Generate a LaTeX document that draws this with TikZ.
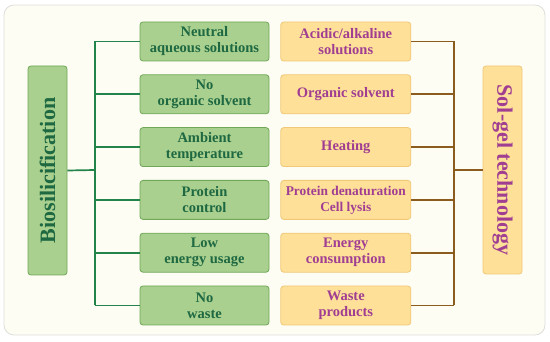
\documentclass[tikz,border=0pt]{standalone}
\usepackage{fontspec}
\setmainfont{Liberation Serif}
\usepackage{tikz}
\usetikzlibrary{positioning,calc}
\usepackage{xcolor}
\definecolor{paper}{RGB}{253,253,243}
\definecolor{frame}{RGB}{222,222,218}
\definecolor{leafgreen}{RGB}{169,208,142}
\definecolor{edgegreen}{RGB}{112,168,88}
\definecolor{inkgreen}{RGB}{30,104,66}
\definecolor{linegreen}{RGB}{34,132,74}
\definecolor{sand}{RGB}{255,224,153}
\definecolor{edgesand}{RGB}{240,200,120}
\definecolor{inkpurple}{RGB}{160,62,146}
\definecolor{linebrown}{RGB}{140,92,30}

\begin{document}
\begin{tikzpicture}[
    x=1pt, y=-1pt,
    node distance=13pt,
    box/.style={rectangle, draw, line width=0.8pt, rounded corners=3pt, minimum width=129pt, minimum height=39pt, align=center, inner sep=1pt, font=\fontsize{14.5}{16}\selectfont\bfseries},
    pro/.style={box, fill=leafgreen, draw=edgegreen, text=inkgreen},
    con/.style={box, fill=sand, draw=edgesand, text=inkpurple, minimum width=130pt},
    side/.style={rectangle, draw, line width=0.8pt, rounded corners=3pt, minimum width=209pt, minimum height=39pt, rotate=90, inner sep=0pt, font=\fontsize{22}{24}\selectfont\bfseries},
    gline/.style={draw=linegreen, line width=1.7pt},
    bline/.style={draw=linebrown, line width=1.7pt}
]
    \useasboundingbox (0,0) rectangle (550,342);
    \draw[frame, fill=paper, line width=0.8pt, rounded corners=10pt] (4,5) rectangle (545,335);

    % Biosilicification side
    \node[side, fill=leafgreen, draw=edgegreen, text=inkgreen] (bio) at (47.5,170.5) {Biosilicification};
    \node[pro] (g1) at (204.5,41.5) {Neutral\\aqueous solutions};
    \node[pro, below=of g1] (g2) {No\\organic solvent};
    \node[pro, below=of g2] (g3) {Ambient\\temperature};
    \node[pro, below=of g3] (g4) {Protein\\control};
    \node[pro, below=of g4] (g5) {Low\\energy usage};
    \node[pro, below=of g5] (g6) {No\\waste};

    % Sol-gel side
    \node[con, right=11pt of g1] (o1) {Acidic/alkaline\\solutions};
    \node[con, right=11pt of g2] (o2) {Organic solvent};
    \node[con, right=11pt of g3] (o3) {Heating};
    \node[con, right=11pt of g4, font=\fontsize{13.4}{16}\selectfont\bfseries] (o4) {Protein denaturation\\Cell lysis};
    \node[con, right=11pt of g5] (o5) {Energy\\consumption};
    \node[con, right=11pt of g6] (o6) {Waste\\products};
    \node[side, minimum width=208pt, fill=sand, draw=edgesand, text=inkpurple, rotate=180] (sol) at (502.5,170) {Sol-gel technology};

    % Edges
    \coordinate (lfork) at (95,170);
    \coordinate (rfork) at (454,170);
    \draw[gline] (bio.south) -- (lfork);
    \draw[gline] (lfork |- g1.west) -- (lfork |- g6.west);
    \draw[gline] (lfork |- g1.west) -- (g1.west);
    \draw[gline] (lfork |- g2.west) -- (g2.west);
    \draw[gline] (lfork |- g3.west) -- (g3.west);
    \draw[gline] (lfork |- g4.west) -- (g4.west);
    \draw[gline] (lfork |- g5.west) -- (g5.west);
    \draw[gline] (lfork |- g6.west) -- (g6.west);
    \draw[bline] (sol.south) -- (rfork);
    \draw[bline] (rfork |- o1.east) -- (rfork |- o6.east);
    \draw[bline] (o1.east) -- (rfork |- o1.east);
    \draw[bline] (o2.east) -- (rfork |- o2.east);
    \draw[bline] (o3.east) -- (rfork |- o3.east);
    \draw[bline] (o4.east) -- (rfork |- o4.east);
    \draw[bline] (o5.east) -- (rfork |- o5.east);
    \draw[bline] (o6.east) -- (rfork |- o6.east);
\end{tikzpicture}
\end{document}
